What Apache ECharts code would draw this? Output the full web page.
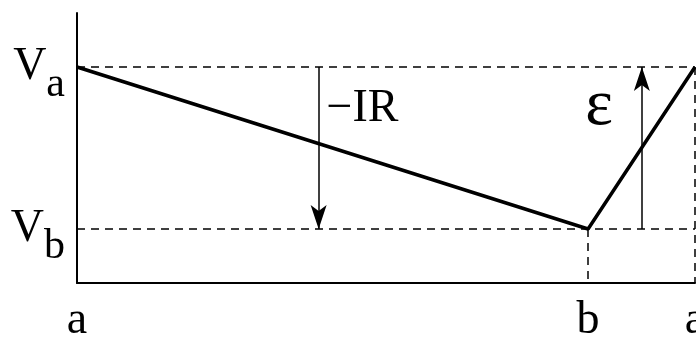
<!DOCTYPE html>
<html>
<head>
<meta charset="utf-8">
<script src="https://cdn.jsdelivr.net/npm/echarts@6/dist/echarts.min.js"></script>
<style>
  html, body { margin: 0; padding: 0; background: #fff; }
  #chart { width: 696px; height: 337px; }
</style>
</head>
<body>
<div id="chart"></div>
<script>
// Potential around a simple circuit: drop across the resistor, rise across the EMF.
const VA = 4;            // potential at point a
const VB = 1;            // potential at point b
const POS_A = 0;         // start of the loop
const POS_B = 0.827;     // point b
const POS_A2 = 1;        // back at point a
const potentialPath = [[POS_A, VA], [POS_B, VB], [POS_A2, VA]];
const xTickValues = [POS_A, POS_B, POS_A2];
const xTickNames = ['a', 'b', 'a'];
const yTickValues = [VB, VA];
const yTickSubs = { 1: 'b', 4: 'a' };
const irArrowX = 0.391;
const emfArrowX = 0.914;
const irLabel = [0.462, 3.22, '\u2212IR'];
const emfLabel = [0.845, 3.26, '\u03B5'];

const FONT = '"Liberation Serif", "Times New Roman", serif';
const dashed = { color: '#000', width: 1.5, type: [8, 6] };
const chart = echarts.init(document.getElementById('chart'));

function textSeries(name, point, size) {
  return {
    name: name,
    type: 'scatter',
    data: [point],
    symbolSize: 0,
    itemStyle: { opacity: 1 },
    label: {
      show: true,
      position: 'inside',
      formatter: p => p.data[2],
      color: '#000',
      fontFamily: FONT,
      fontSize: size
    }
  };
}

chart.setOption({
  animation: false,
  backgroundColor: '#fff',
  grid: { left: 77, right: 1, top: 13, bottom: 54, outerBoundsMode: 'none', containLabel: false },
  xAxis: {
    type: 'value', min: 0, max: 1,
    axisLine: { show: true, onZero: false, lineStyle: { color: '#000', width: 2 } },
    axisTick: { show: false },
    splitLine: { show: false },
    axisLabel: {
      customValues: xTickValues,
      formatter: v => xTickNames[xTickValues.indexOf(v)],
      color: '#000', fontFamily: FONT, fontSize: 46, margin: 15
    }
  },
  yAxis: {
    type: 'value', min: 0, max: 5,
    axisLine: { show: true, onZero: false, lineStyle: { color: '#000', width: 2 } },
    axisTick: { show: false },
    splitLine: { show: false },
    axisLabel: {
      customValues: yTickValues,
      formatter: v => '{v|V}{s|' + yTickSubs[v] + '}',
      margin: 12,
      color: '#000',
      fontFamily: FONT,
      fontSize: 46,
      rich: {
        v: { fontFamily: FONT, fontSize: 46, color: '#000', lineHeight: 46 },
        s: { fontFamily: FONT, fontSize: 42, color: '#000', padding: [36, 0, 0, 0], lineHeight: 42 }
      }
    }
  },
  series: [
    {
      name: 'potential',
      type: 'line',
      data: potentialPath,
      symbol: 'none',
      lineStyle: { color: '#000', width: 3.5 },
      z: 5,
      markLine: {
        silent: true,
        symbol: 'none',
        label: { show: false },
        lineStyle: dashed,
        data: [
          [{ coord: [POS_A, VA] }, { coord: [POS_A2, VA] }],
          [{ coord: [POS_A, VB] }, { coord: [POS_A2, VB] }],
          [{ coord: [POS_B, VB] }, { coord: [POS_B, 0] }],
          [{ coord: [POS_A2, VA] }, { coord: [POS_A2, 0] }]
        ]
      }
    },
    {
      name: 'arrows',
      type: 'line',
      data: [],
      markLine: {
        silent: true,
        symbol: ['none', 'arrow'],
        symbolSize: [12, 24],
        label: { show: false },
        lineStyle: { color: '#000', width: 1.5, type: 'solid' },
        data: [
          [{ coord: [irArrowX, VA] }, { coord: [irArrowX, VB] }],
          [{ coord: [emfArrowX, VB] }, { coord: [emfArrowX, VA] }]
        ]
      }
    },
    textSeries('IR drop', irLabel, 46),
    textSeries('EMF', emfLabel, 66)
  ]
});
</script>
</body>
</html>
